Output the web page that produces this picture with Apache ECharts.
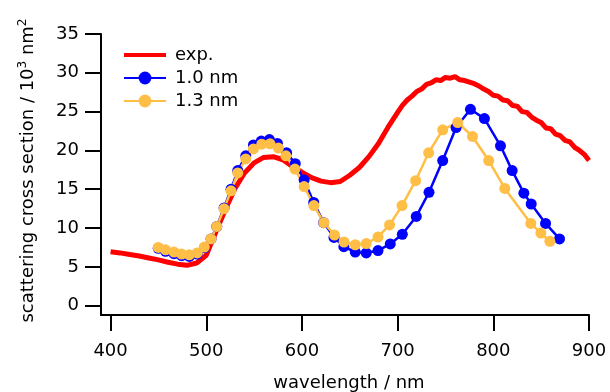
<!DOCTYPE html>
<html>
<head>
<meta charset="utf-8">
<script src="https://cdn.jsdelivr.net/npm/echarts@6/dist/echarts.min.js"></script>
<style>
html,body{margin:0;padding:0;background:#fff;}
#c{width:610px;height:392px;}
</style>
</head>
<body>
<div id="c"></div>
<script>
// ---- data ----
var wlExp = [400,410,420,430,440,450,460,470,480,490,500,510,520,530,540,550,560,570,580,590,600,610,620,630,640,650,660,670,680,690,700,
  705,710,715,720,725,730,735,740,745,750,755,760,765,770,775,780,785,790,795,800,805,810,815,820,825,830,835,840,845,850,855,860,865,870,875,880,885,890,895,900];
var valExp = [6.95,6.8,6.6,6.4,6.15,5.9,5.6,5.35,5.2,5.5,6.5,9.5,12.4,15.1,17.1,18.4,19.1,19.2,18.8,17.95,17.2,16.5,16.05,15.85,16.0,16.8,17.8,19.2,20.9,23.0,24.9,
  25.8,26.5,27.0,27.6,27.9,28.5,28.7,29.1,29.0,29.4,29.3,29.5,29.1,29.0,28.8,28.6,28.3,27.9,27.6,27.1,27.0,26.5,26.4,25.8,25.7,25.0,24.9,24.3,23.9,23.6,22.9,22.8,22.1,21.9,21.3,21.1,20.4,20.0,19.5,18.7];

var wl10 = [449.8,457.5,466.3,474.3,482.3,490.6,498,505,511,518.6,525.9,532.9,541.3,549.3,557.5,566,574.4,584,593,602.3,612.3,622.7,633.5,643.8,
  655.7,667.2,679.5,692.3,704.9,719.5,732.8,747.1,761.1,776.1,790.7,807.5,819.7,831.9,839.6,854.6,869.2];
var val10 = [7.4,7.0,6.7,6.45,6.35,6.65,7.45,8.6,10.2,12.6,15.0,17.4,19.3,20.7,21.2,21.4,20.9,19.7,18.3,16.2,13.3,10.7,8.8,7.6,
  6.9,6.8,7.1,7.95,9.2,11.5,14.6,18.7,22.95,25.3,24.1,20.6,17.4,14.5,13.1,10.6,8.6];

var wl13 = [449.8,457.5,466.3,474.3,482.3,490.6,498,505,511,518.6,525.9,532.9,541.3,549.3,558,566.7,575.4,583.2,592.6,602.3,612.5,622.9,634,644,
  655.7,667.2,679.5,691.6,704.6,718.8,732.4,747.1,762.8,778.2,795.2,812,839.2,849.7,859.1];
var val13 = [7.5,7.2,6.9,6.65,6.55,6.8,7.55,8.6,10.2,12.5,14.8,17.1,18.9,20.2,20.8,20.85,20.3,19.3,17.6,15.35,12.9,10.7,9.1,8.2,
  7.85,8.0,8.85,10.4,12.9,16.1,19.7,22.65,23.6,21.8,18.7,15.1,10.6,9.35,8.3];

var xTicks = [400,500,600,700,800,900];
var yTicks = [0,5,10,15,20,25,30,35];

function pairs(xs, ys){ return xs.map(function(x,i){ return [x, ys[i]]; }); }

var FONT = 'DejaVu Sans';
var chart = echarts.init(document.getElementById('c'), null, {renderer:'canvas'});
chart.setOption({
  animation: false,
  backgroundColor: '#fff',
  textStyle: {fontFamily: FONT},
  grid: {left: 101, right: 21, top: 34, bottom: 77, containLabel: false, outerBoundsMode: 'none'},
  legend: {
    orient: 'vertical', left: 117, top: 41,
    itemWidth: 42, itemHeight: 16, itemGap: 5,
    textStyle: {fontFamily: FONT, fontSize: 18, color: '#000', padding: [0,0,0,4]},
    data: [{name: 'exp.', itemStyle: {opacity: 0}, lineStyle: {width: 4, color: '#ff0000'}}, '1.0 nm', '1.3 nm']
  },
  xAxis: {
    type: 'value', min: 390, max: 900,
    name: 'wavelength / nm', nameLocation: 'middle', nameGap: 59,
    nameTextStyle: {fontFamily: FONT, fontSize: 18, color: '#000', padding: [0,0,0,8]},
    axisLine: {show: true, onZero: false, lineStyle: {color: '#000', width: 2}},
    axisTick: {show: true, length: 16, lineStyle: {color: '#000', width: 2}, customValues: xTicks},
    axisLabel: {fontFamily: FONT, fontSize: 18, color: '#000', margin: 27, customValues: xTicks},
    splitLine: {show: false}
  },
  yAxis: {
    type: 'value', min: -1.2, max: 35,
    name: 'scattering cross section / 10{sup|3} nm{sup|2}', nameLocation: 'middle', nameGap: 62,
    nameTextStyle: {fontFamily: FONT, fontSize: 18, color: '#000', padding: [0,0,0,8],
      rich: {sup: {fontFamily: FONT, fontSize: 12, color: '#000', verticalAlign: 'top', padding: [0,0,10,0]}}},
    axisLine: {show: true, onZero: false, lineStyle: {color: '#000', width: 2}},
    axisTick: {show: true, length: 16, lineStyle: {color: '#000', width: 2}, customValues: yTicks},
    axisLabel: {fontFamily: FONT, fontSize: 18, color: '#000', margin: 22, customValues: yTicks},
    splitLine: {show: false}
  },
  series: [
    {name: 'exp.', type: 'line', data: pairs(wlExp, valExp), showSymbol: false, symbol: 'none',
      lineStyle: {color: '#ff0000', width: 5}, itemStyle: {color: '#ff0000'}},
    {name: '1.0 nm', type: 'line', data: pairs(wl10, val10), symbol: 'circle', symbolSize: 11,
      lineStyle: {color: '#0000ff', width: 2.5}, itemStyle: {color: '#0000ff'}},
    {name: '1.3 nm', type: 'line', data: pairs(wl13, val13), symbol: 'circle', symbolSize: 11,
      lineStyle: {color: '#ffbe46', width: 2.5}, itemStyle: {color: '#ffbe46'}}
  ]
});
</script>
</body>
</html>
